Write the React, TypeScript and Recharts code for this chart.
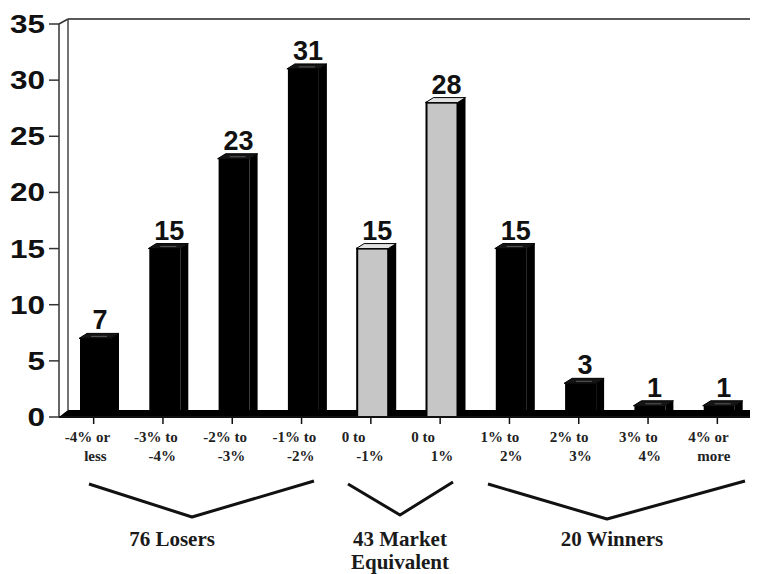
import React from 'react';
import { BarChart, Bar, XAxis, YAxis, Cell, LabelList } from 'recharts';

// daily return buckets relative to the market
const categories = ['-4% or less', '-3% to -4%', '-2% to -3%', '-1% to -2%', '0 to -1%', '0 to 1%', '1% to 2%', '2% to 3%', '3% to 4%', '4% or more'];
const tickTop = ['-4% or', '-3% to', '-2% to', '-1% to', '0 to', '0 to', '1% to', '2% to', '3% to', '4% or'];
const tickBottom = ['less', '-4%', '-3%', '-2%', '-1%', '1%', '2%', '3%', '4%', 'more'];
const counts = [7, 15, 23, 31, 15, 28, 15, 3, 1, 1];
const nearMarket = [false, false, false, false, true, true, false, false, false, false];
const yTicks = [0, 5, 10, 15, 20, 25, 30, 35];

// bucket groups shown under the axis
const groupTitles = [['Losers'], ['Market', 'Equivalent'], ['Winners']];
const groupRanges = [[0, 3], [4, 5], [6, 9]];

const W = 750;
const H = 566;
const PLOT_LEFT = 51;
const PLOT_RIGHT = 744;
const PLOT_TOP = 16;
const PLOT_BOTTOM = 409;

const DEPTH = 8;
const RISE = 5;
const SHIFT = 5;
const GRAY = '#c6c6c6';

const data = categories.map((name, i) => ({ name, count: counts[i], market: nearMarket[i] }));

const groupTotals = groupRanges.map(([a, b]) => counts.slice(a, b + 1).reduce((s, v) => s + v, 0));

const Bar3D = (props: any) => {
  const { x, y, width, height, fill } = props;
  if (height == null) return null;
  const x0 = x + SHIFT;
  const front = width - DEPTH;
  const bottom = y + height;
  const light = fill !== '#000';
  return (
    <g>
      <polygon
        points={`${x0 + front},${y} ${x0 + width},${y - RISE} ${x0 + width},${bottom - RISE} ${x0 + front},${bottom}`}
        fill="#000"
      />
      <rect x={x0 + 1} y={y} width={front - 1} height={height} fill={fill} stroke="#000" strokeWidth={light ? 2 : 0} />
      <polygon
        points={`${x0},${y} ${x0 + DEPTH},${y - RISE} ${x0 + width},${y - RISE} ${x0 + front},${y}`}
        fill={light ? '#e2e2e2' : '#151515'}
        stroke="#000"
        strokeWidth={1}
      />
      {!light && (
        <line x1={x0 + DEPTH + 4} y1={y - 2} x2={x0 + width - 12} y2={y - 2} stroke="#6a6a6a" strokeWidth={0.8} />
      )}
    </g>
  );
};

const ValueLabel = (props: any) => {
  const { x, y, width, value } = props;
  return (
    <text
      x={x + SHIFT + width / 2 + 1}
      y={y - RISE - 4}
      textAnchor="middle"
      fontFamily="'Liberation Sans', Arial, sans-serif"
      fontWeight="bold"
      fontSize={27}
      fill="#111"
    >
      {value}
    </text>
  );
};

const YTick = (props: any) => {
  const { x, y, payload } = props;
  const label = String(payload.value);
  return (
    <text
      x={x}
      y={y}
      dy="0.36em"
      textAnchor="end"
      textLength={label.length * 17.5}
      lengthAdjust="spacingAndGlyphs"
      fontFamily="'Liberation Sans', Arial, sans-serif"
      fontWeight="bold"
      fontSize={25}
      fill="#111"
    >
      {label}
    </text>
  );
};

const XTick = (props: any) => {
  const { x, y, index } = props;
  const style = { fontFamily: "'Liberation Serif', 'Times New Roman', serif", fontWeight: 'bold' as const, fontSize: 15, fill: '#222' };
  return (
    <g>
      <text x={x - 29} y={y + 16} textAnchor="start" {...style}>{tickTop[index]}</text>
      <text x={x + 13} y={y + 35} textAnchor="end" {...style}>{tickBottom[index]}</text>
    </g>
  );
};

// back wall, floor, and the grouping brackets below the axis
const Backdrop = () => {
  const brackets = [
    [81, 476, 184, 509, 306, 473],
    [340, 476, 392, 507, 445, 474],
    [480, 476, 599, 511, 737, 473],
  ];
  const titleX = [164, 392, 604];
  return (
    <svg width={W} height={H} style={{ position: 'absolute', left: 0, top: 0 }}>
      <line x1={PLOT_LEFT} y1={PLOT_TOP} x2={PLOT_LEFT + 9} y2={PLOT_TOP - 5} stroke="#333" strokeWidth={1.5} />
      <line x1={PLOT_LEFT + 9} y1={PLOT_TOP - 5} x2={W} y2={PLOT_TOP - 5} stroke="#222" strokeWidth={1.5} />
      <line x1={PLOT_LEFT + 9} y1={PLOT_TOP - 5} x2={PLOT_LEFT + 9} y2={PLOT_BOTTOM - 7} stroke="#444" strokeWidth={1.5} />
      <polygon
        points={`${PLOT_LEFT},${PLOT_BOTTOM} ${PLOT_LEFT + 9},${PLOT_BOTTOM - 7} ${W},${PLOT_BOTTOM - 7} ${W},${PLOT_BOTTOM}`}
        fill="#000"
      />
      {brackets.map((b, i) => (
        <polyline
          key={i}
          points={`${b[0]},${b[1]} ${b[2]},${b[3]} ${b[4]},${b[5]}`}
          fill="none"
          stroke="#111"
          strokeWidth={3}
          strokeLinejoin="round"
        />
      ))}
      {groupTitles.map((lines, i) => (
        <text
          key={i}
          textAnchor="middle"
          fontFamily="'Liberation Serif', 'Times New Roman', serif"
          fontWeight="bold"
          fontSize={21}
          fill="#1a1a1a"
        >
          {lines.map((line, j) => (
            <tspan key={j} x={titleX[i]} y={538 + j * 23}>
              {j === 0 ? `${groupTotals[i]} ${line}` : line}
            </tspan>
          ))}
        </text>
      ))}
    </svg>
  );
};

export default function App() {
  return (
    <div style={{ position: 'relative', width: W, height: H }}>
      <Backdrop />
      <BarChart
        width={W}
        height={H}
        data={data}
        margin={{ top: PLOT_TOP, right: W - PLOT_RIGHT, bottom: 97, left: 0 }}
        barSize={40}
      >
        <YAxis
          width={PLOT_LEFT}
          domain={[0, 35]}
          ticks={yTicks}
          interval={0}
          tickSize={10}
          tickMargin={4}
          axisLine={{ stroke: '#333', strokeWidth: 1.5 }}
          tickLine={{ stroke: '#333', strokeWidth: 1.5 }}
          tick={<YTick />}
        />
        <XAxis
          dataKey="name"
          height={60}
          interval={0}
          tickSize={7}
          tickMargin={2}
          axisLine={{ stroke: '#111', strokeWidth: 2 }}
          tickLine={{ stroke: '#111', strokeWidth: 1.5 }}
          tick={<XTick />}
        />
        <Bar dataKey="count" shape={<Bar3D />} isAnimationActive={false}>
          {data.map((d, i) => (
            <Cell key={`cell-${i}`} fill={d.market ? GRAY : '#000'} />
          ))}
          <LabelList dataKey="count" content={<ValueLabel />} />
        </Bar>
      </BarChart>
    </div>
  );
}
